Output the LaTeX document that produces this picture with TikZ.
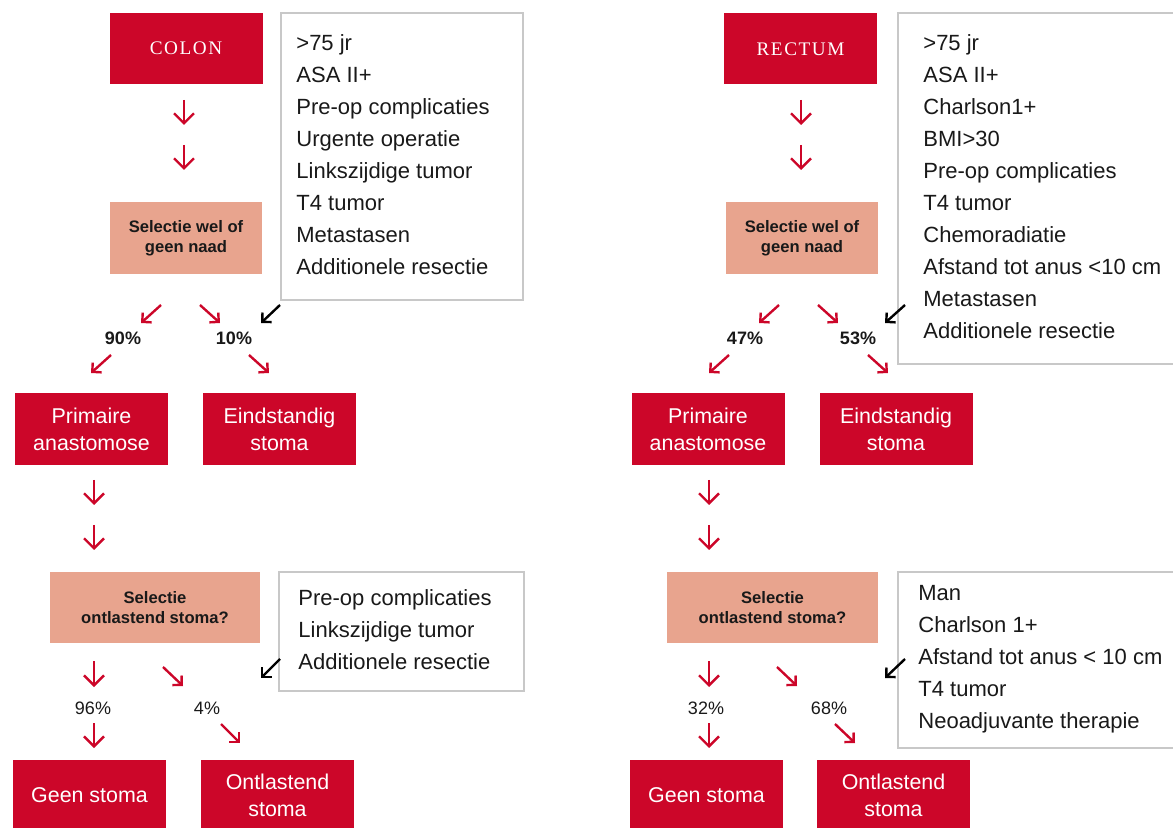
\documentclass[tikz,border=0pt]{standalone}
\usepackage{fontspec}
\setmainfont{Liberation Sans}
\newfontfamily\serifcap[LetterSpace=8]{Liberation Serif}
\usetikzlibrary{arrows.meta}
\definecolor{crimson}{RGB}{204,6,41}
\definecolor{salmon}{RGB}{232,164,142}
\definecolor{critgray}{RGB}{200,200,200}
\definecolor{labelblack}{RGB}{25,25,25}
\begin{document}
\begin{tikzpicture}[x=0.5pt,y=-0.5pt,
  redbox/.style={fill=crimson, text=white, align=center, inner sep=0pt,
    minimum width=76.5pt, minimum height=36pt, font=\fontsize{10.7}{13.5}\selectfont},
  titlebox/.style={fill=crimson, text=white, inner sep=0pt,
    minimum width=76.5pt, minimum height=35.5pt, font=\serifcap\fontsize{9.6}{11}\selectfont},
  selbox/.style={fill=salmon, text=labelblack, align=center, inner sep=0pt,
    minimum height=36pt, font=\bfseries\fontsize{8.3}{10}\selectfont},
  critbox/.style={draw=critgray, line width=1pt, fill=white, inner sep=0pt},
  crittext/.style={anchor=west, align=left, inner sep=0pt, text=labelblack,
    font=\fontsize{11}{16}\selectfont},
  pct/.style={inner sep=0pt, text=labelblack, font=\fontsize{9}{11}\selectfont},
  pctb/.style={inner sep=0pt, text=labelblack, font=\bfseries\fontsize{9}{11}\selectfont},
  darr/.style={draw=crimson, line width=1.2pt, -{Straight Barb[length=5pt,width=10pt]}},
  diagarr/.style={draw=crimson, line width=1.2pt, -{Straight Barb[length=3.3pt,width=6.6pt]}},
  blkarr/.style={draw=black, line width=1.2pt, -{Straight Barb[length=3.3pt,width=6.6pt]}}]
\useasboundingbox (0,0) rectangle (1173,828);
\clip (0,0) rectangle (1173,828);

% ---------------- COLON ----------------
\node[titlebox] (colon) at (186,48.5) {COLON};
\node[critbox, minimum width=121pt, minimum height=143.5pt] (crit1) at (402,156.5) {};
\node[crittext] (crit1t) at (296,155) {>75 jr\\ASA II+\\Pre-op complicaties\\Urgente operatie\\Linkszijdige tumor\\T4 tumor\\Metastasen\\Additionele resectie};
\node[selbox, minimum width=76pt] (selw1) at (186,238) {Selectie wel of\\geen naad};
\node[redbox] (prim1) at (91.5,429) {Primaire\\anastomose};
\node[redbox] (eind1) at (279.5,429) {Eindstandig\\stoma};
\node[selbox, minimum width=105pt, minimum height=35.5pt] (selo1) at (155,607.5) {Selectie\\ontlastend stoma?};
\node[critbox, minimum width=122.5pt, minimum height=59.5pt] (crit2) at (401.5,631.5) {};
\node[crittext] (crit2t) at (298,630) {Pre-op complicaties\\Linkszijdige tumor\\Additionele resectie};
\node[redbox, minimum height=35pt] (geen1) at (89.5,795) {Geen stoma};
\node[redbox, minimum height=35pt] (ontl1) at (277.5,795) {Ontlastend\\stoma};

\node[pctb] (p90) at (123,338) {90\%};
\node[pctb] (p10) at (234,338) {10\%};
\node[pct] (p96) at (93,708) {96\%};
\node[pct] (p4) at (207,708) {4\%};

\draw[darr] (184,100) -- (184,125);
\draw[darr] (184,145) -- (184,170);
\draw[diagarr] (161,305) -- (141,323);
\draw[diagarr] (200,305) -- (220,323);
\draw[blkarr] (280,305) -- (261,323);
\draw[diagarr] (111,355) -- (91,373);
\draw[diagarr] (249,355) -- (269,373);
\draw[darr] (94,480) -- (94,505);
\draw[darr] (94,525) -- (94,550);
\draw[darr] (94,661) -- (94,687);
\draw[diagarr] (163,667) -- (183,686);
\draw[blkarr] (280,659) -- (261,678);
\draw[darr] (94,723) -- (94,748);
\draw[diagarr] (221,724) -- (240,743);

% ---------------- RECTUM ----------------
\node[titlebox] (rectum) at (800.5,49) {RECTUM};
\node[critbox, minimum width=143.5pt, minimum height=175.5pt] (crit3) at (1041.5,188.5) {};
\node[crittext] (crit3t) at (923,187) {>75 jr\\ASA II+\\Charlson1+\\BMI>30\\Pre-op complicaties\\T4 tumor\\Chemoradiatie\\Afstand tot anus <10 cm\\Metastasen\\Additionele resectie};
\node[selbox, minimum width=76pt] (selw2) at (802,238) {Selectie wel of\\geen naad};
\node[redbox] (prim2) at (708,429) {Primaire\\anastomose};
\node[redbox] (eind2) at (896,429) {Eindstandig\\stoma};
\node[selbox, minimum width=105.5pt, minimum height=35.5pt] (selo2) at (772.5,607.5) {Selectie\\ontlastend stoma?};
\node[critbox, minimum width=143.5pt, minimum height=88pt] (crit4) at (1041.5,660) {};
\node[crittext] (crit4t) at (918,659) {Man\\Charlson 1+\\Afstand tot anus < 10 cm\\T4 tumor\\Neoadjuvante therapie};
\node[redbox, minimum height=35pt] (geen2) at (706.5,795) {Geen stoma};
\node[redbox, minimum height=35pt] (ontl2) at (893.5,795) {Ontlastend\\stoma};

\node[pctb] (p47) at (745,338) {47\%};
\node[pctb] (p53) at (858,338) {53\%};
\node[pct] (p32) at (706,708) {32\%};
\node[pct] (p68) at (829,708) {68\%};

\draw[darr] (801,100) -- (801,125);
\draw[darr] (801,145) -- (801,170);
\draw[diagarr] (779,305) -- (759,323);
\draw[diagarr] (818,305) -- (838,323);
\draw[blkarr] (905,305) -- (885,323);
\draw[diagarr] (729,355) -- (709,373);
\draw[diagarr] (868,355) -- (888,373);
\draw[darr] (709,480) -- (709,505);
\draw[darr] (709,525) -- (709,550);
\draw[darr] (709,661) -- (709,687);
\draw[diagarr] (777,667) -- (797,686);
\draw[blkarr] (905,659) -- (885,678);
\draw[darr] (709,723) -- (709,748);
\draw[diagarr] (835,724) -- (855,743);
\end{tikzpicture}
\end{document}
